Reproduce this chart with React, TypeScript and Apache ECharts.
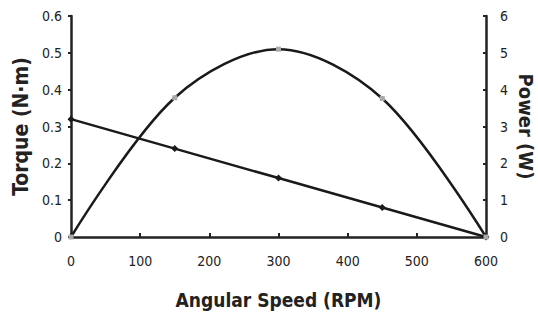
import React, { useEffect, useRef } from "react";
import * as echarts from "echarts";

const speeds = [0, 150, 300, 450, 600];
const torque = [0.32, 0.24, 0.16, 0.08, 0];
const power = [0, 3.78, 5.1, 3.76, 0];
const xTicks = [0, 100, 200, 300, 400, 500, 600];

const narrow = "'DejaVu Sans Condensed', 'Liberation Sans Narrow', sans-serif";
const bold = "'DejaVu Sans Condensed', 'Liberation Sans', sans-serif";

export default function App() {
  const ref = useRef<HTMLDivElement>(null);
  useEffect(() => {
    const chart = echarts.init(ref.current!, null, { renderer: "svg" });
    chart.setOption({
      animation: false,
      backgroundColor: "#fff",
      grid: { left: 71, right: 52, top: 16, bottom: 83, containLabel: false, outerBoundsMode: "none" },
      xAxis: {
        type: "value",
        min: xTicks[0],
        max: xTicks[xTicks.length - 1],
        interval: 100,
        name: "Angular Speed (RPM)",
        nameLocation: "middle",
        nameGap: 53,
        nameTextStyle: { fontFamily: bold, fontSize: 19, fontWeight: "bold", color: "#222" },
        axisLine: { lineStyle: { color: "#222", width: 2.5 } },
        axisTick: { inside: true, length: 4, lineStyle: { color: "#222", width: 2 } },
        axisLabel: { fontFamily: narrow, fontSize: 14, color: "#222", margin: 17 },
        splitLine: { show: false },
      },
      yAxis: [
        {
          type: "value",
          min: 0,
          max: 0.6,
          interval: 0.1,
          name: "Torque (N·m)",
          nameLocation: "middle",
          nameGap: 35,
          nameTextStyle: { fontFamily: bold, fontSize: 21, fontWeight: "bold", color: "#222" },
          axisLine: { show: true, lineStyle: { color: "#222", width: 2.5 } },
          axisTick: { show: true, length: 3, lineStyle: { color: "#222", width: 2 } },
          axisLabel: { fontFamily: narrow, fontSize: 14, color: "#222", margin: 9 },
          splitLine: { show: false },
        },
        {
          type: "value",
          min: 0,
          max: 6,
          interval: 1,
          name: "Power (W)",
          nameLocation: "middle",
          nameGap: 30,
          nameMoveOverlap: false,
          nameRotate: -90,
          nameTextStyle: { fontFamily: bold, fontSize: 20, fontWeight: "bold", color: "#222" },
          axisLine: { show: true, lineStyle: { color: "#222", width: 2.5 } },
          axisTick: { show: true, inside: true, length: 3, lineStyle: { color: "#222", width: 2 } },
          axisLabel: { fontFamily: narrow, fontSize: 14, color: "#222", margin: 14 },
          splitLine: { show: false },
        },
      ],
      series: [
        {
          type: "line",
          yAxisIndex: 0,
          data: speeds.map((s, i) => [s, torque[i]]),
          lineStyle: { color: "#1a1a1a", width: 2.5 },
          symbol: "diamond",
          symbolSize: 7,
          itemStyle: { color: "#1a1a1a" },
        },
        {
          type: "line",
          yAxisIndex: 1,
          smooth: 0.33,
          data: speeds.map((s, i) => [s, power[i]]),
          lineStyle: { color: "#1a1a1a", width: 2.5 },
          symbol: "rect",
          symbolSize: 5,
          itemStyle: { color: "#aaa" },
        },
      ],
    });
    return () => chart.dispose();
  }, []);
  return <div ref={ref} style={{ width: 538, height: 320, position: "absolute", left: 0, top: 0 }} />;
}
